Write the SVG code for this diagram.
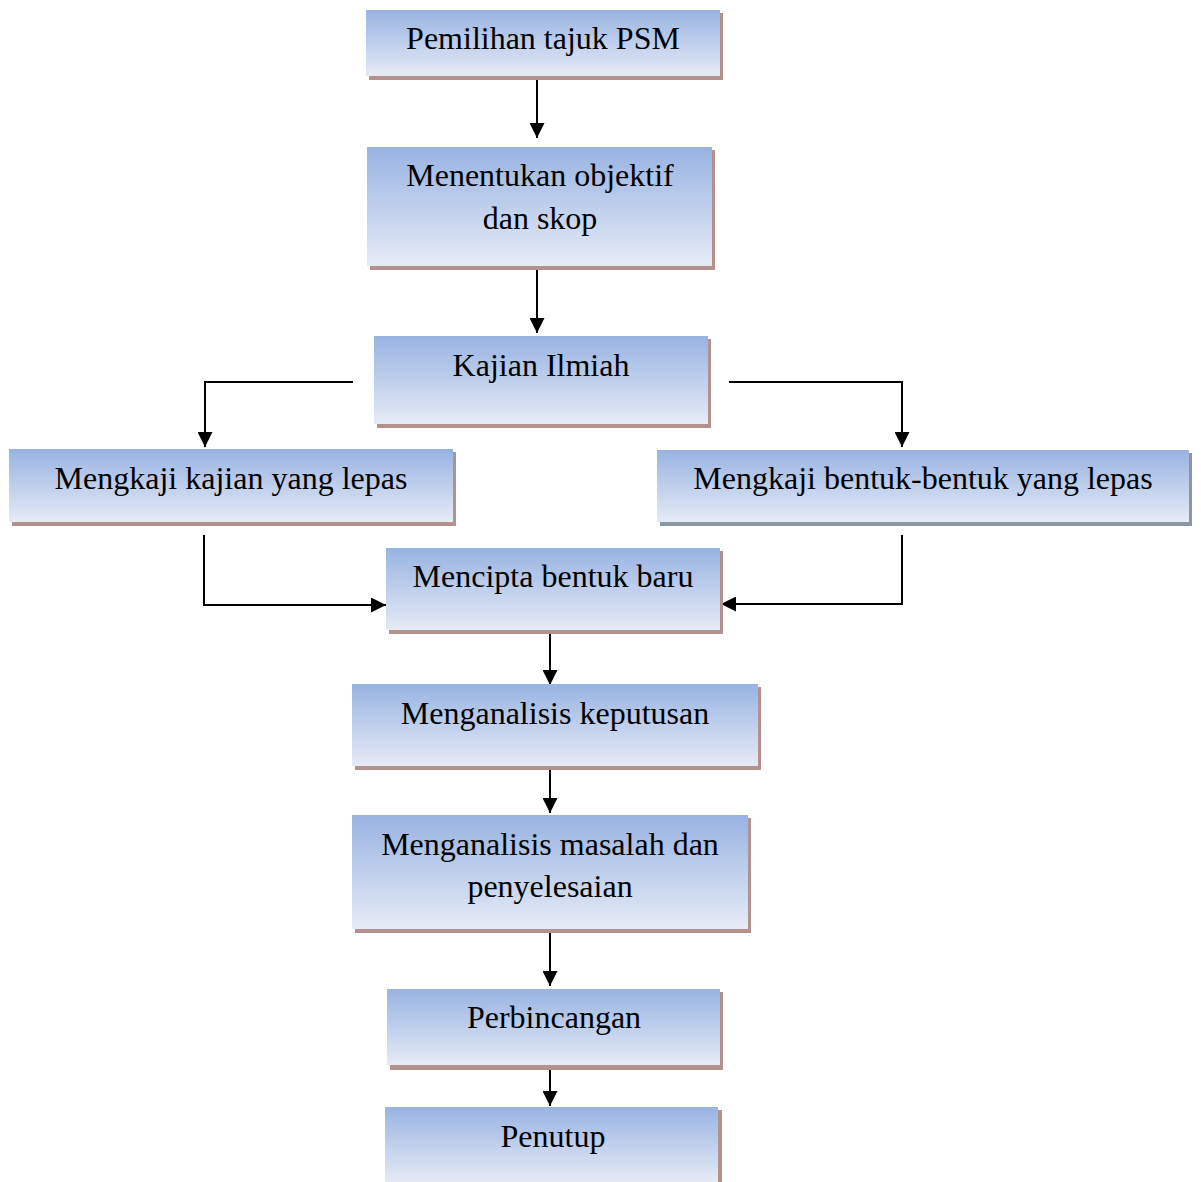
<svg xmlns="http://www.w3.org/2000/svg" width="1201" height="1182" viewBox="0 0 1201 1182">
<defs>
<linearGradient id="g" x1="0" y1="0" x2="0" y2="1">
<stop offset="0" stop-color="#98b3e2"/>
<stop offset="1" stop-color="#e6ebf6"/>
</linearGradient>
<marker id="ah" viewBox="0 0 10 10" refX="10" refY="5" markerWidth="7.5" markerHeight="7.5" markerUnits="strokeWidth" orient="auto">
<path d="M0,0 L10,5 L0,10 Z" fill="#000"/>
</marker>
<style>
.box{fill:url(#g)}
.sh{fill:#b3918d}
.shg{fill:#8996a4}
.t{font-family:"Liberation Serif","Times New Roman",serif;font-size:32px;fill:#000;text-anchor:middle}
.c{fill:none;stroke:#000;stroke-width:2;marker-end:url(#ah)}
</style>
</defs>
<rect width="1201" height="1182" fill="#fff"/>
<g id="connectors">
<path class="c" d="M537,76 V138"/>
<path class="c" d="M537,266 V333"/>
<path class="c" d="M353,382 H205 V447"/>
<path class="c" d="M729,382 H902 V447"/>
<path class="c" d="M204,535 V605 H386"/>
<path class="c" d="M902,535 V604 H721"/>
<path class="c" d="M550,630 V685"/>
<path class="c" d="M550,766 V813"/>
<path class="c" d="M550,933 V986"/>
<path class="c" d="M550,1065 V1106"/>
</g>
<g id="n1"><rect class="sh" x="369" y="13" width="354" height="67"/><rect class="box" x="366" y="10" width="354" height="66"/><text class="t" x="543" y="49">Pemilihan tajuk PSM</text></g>
<g id="n2"><rect class="sh" x="370" y="150" width="345" height="120"/><rect class="box" x="367" y="147" width="345" height="119"/><text class="t" x="540" y="186">Menentukan objektif</text><text class="t" x="540" y="229">dan skop</text></g>
<g id="n3"><rect class="sh" x="377" y="339" width="334" height="89"/><rect class="box" x="374" y="336" width="334" height="88"/><text class="t" x="541" y="376">Kajian Ilmiah</text></g>
<g id="n4"><rect class="sh" x="12" y="452" width="444" height="74"/><rect class="box" x="9" y="449" width="444" height="73"/><text class="t" x="231" y="489">Mengkaji kajian yang lepas</text></g>
<g id="n5"><rect class="shg" x="660" y="453" width="532" height="73"/><rect class="box" x="657" y="450" width="532" height="72"/><text class="t" x="923" y="489">Mengkaji bentuk-bentuk yang lepas</text></g>
<g id="n6"><rect class="sh" x="389" y="551" width="334" height="83"/><rect class="box" x="386" y="548" width="334" height="82"/><text class="t" x="553" y="587">Mencipta bentuk baru</text></g>
<g id="n7"><rect class="sh" x="355" y="687" width="406" height="83"/><rect class="box" x="352" y="684" width="406" height="82"/><text class="t" x="555" y="724">Menganalisis keputusan</text></g>
<g id="n8"><rect class="sh" x="355" y="818" width="396" height="115"/><rect class="box" x="352" y="815" width="396" height="114"/><text class="t" x="550" y="855">Menganalisis masalah dan</text><text class="t" x="550" y="897">penyelesaian</text></g>
<g id="n9"><rect class="sh" x="390" y="992" width="333" height="78"/><rect class="box" x="387" y="989" width="333" height="76"/><text class="t" x="554" y="1028">Perbincangan</text></g>
<g id="n10"><rect class="sh" x="388" y="1110" width="334" height="75"/><rect class="box" x="385" y="1107" width="333" height="75"/><text class="t" x="553" y="1147">Penutup</text></g>
</svg>
